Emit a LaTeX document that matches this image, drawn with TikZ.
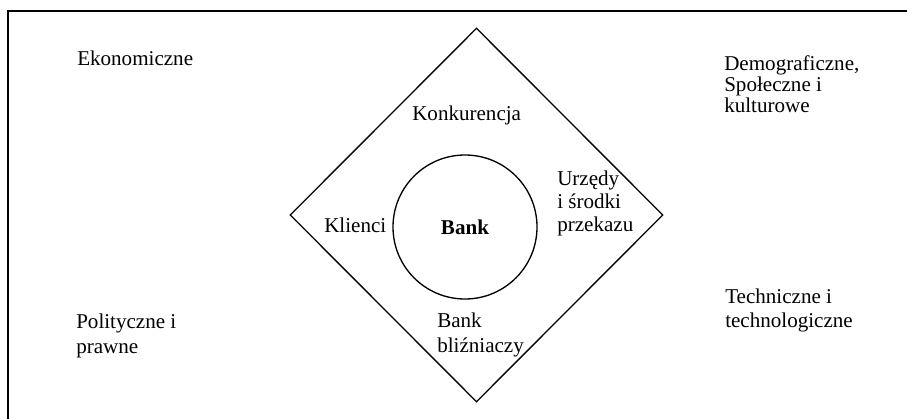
\documentclass[tikz,border=0pt]{standalone}
\usepackage{fontspec}
\setmainfont{Liberation Serif}
\usetikzlibrary{shapes.geometric,positioning}

\tikzset{
  label txt/.style={anchor=base west, inner sep=0pt, align=left,
    font=\fontsize{15.8}{#1}\selectfont},
  label txt/.default=18pt,
  frame line/.style={line width=1.5pt, line cap=rect},
  shape line/.style={line width=1pt}
}

\begin{document}
\begin{tikzpicture}[x=0.75pt,y=-0.75pt]
  \useasboundingbox (0,0) rectangle (907,418);

  %% frame (left and top)
  \draw[frame line] (8,418) -- (8,11) -- (907,11);

  %% diamond and bank
  \node[diamond, draw, shape line, inner sep=0pt,
        minimum width=279.75pt, minimum height=280.5pt] (otoczenie) at (476.5,215) {};
  \node[circle, draw, shape line, inner sep=0pt, minimum size=108pt,
        font=\fontsize{15.8}{18}\selectfont\bfseries] (bank) at (465,227) {Bank};

  %% inner labels (base = last line)
  \node[label txt] (konkurencja) at (412,120) {Konkurencja};
  \node[label txt] (klienci) at (324,232) {Klienci};
  \node[label txt=17.25pt] (urzedy) at (557,231) {Urzędy\\i środki\\przekazu};
  \node[label txt=18.75pt] (blizniaczy) at (437,352) {Bank\\bliźniaczy};

  %% outer labels
  \node[label txt] (ekonomiczne) at (77,65) {Ekonomiczne};
  \node[label txt=15.75pt] (demograficzne) at (724,112) {Demograficzne,\\Społeczne i\\kulturowe};
  \node[label txt=18.75pt] (polityczne) at (76,353) {Polityczne i\\prawne};
  \node[label txt=18pt] (techniczne) at (725,327) {Techniczne i\\technologiczne};
\end{tikzpicture}
\end{document}
